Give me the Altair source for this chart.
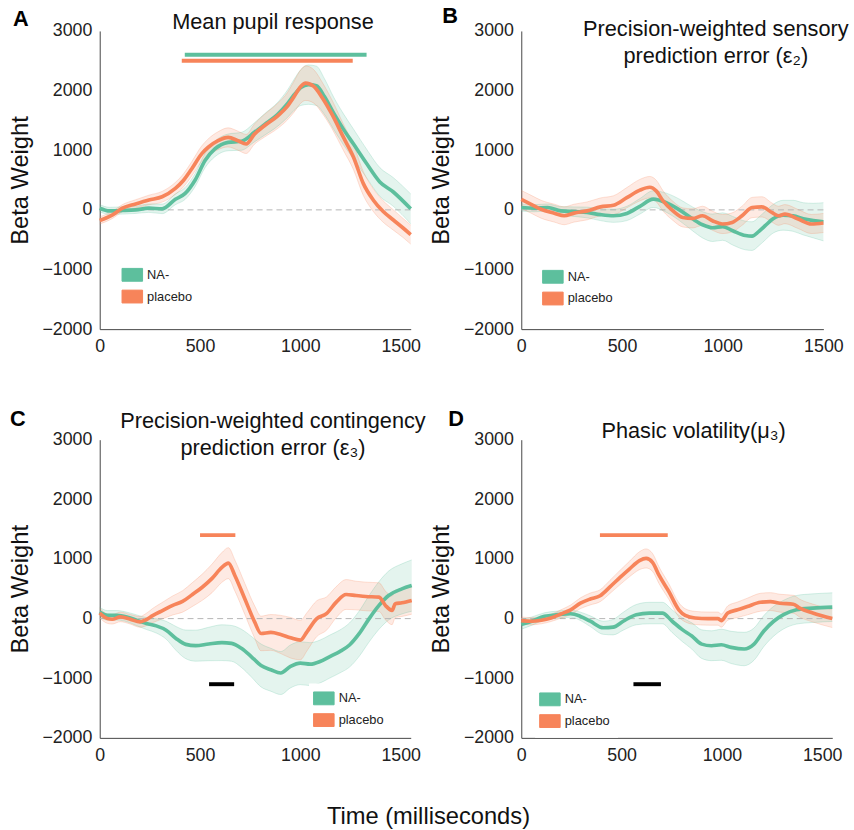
import altair as alt
import pandas as pd

G = "#5dbf9d"
O = "#f7845a"
FONT = "Liberation Sans"
GROUPS = ["NA-", "placebo"]

# ---------------- Panel A: Mean pupil response ----------------
a_pl_t = [0, 64, 113, 179, 245, 311, 377, 418, 459, 508, 541, 590, 640, 689, 730, 771, 821, 886, 936, 969, 1002, 1026, 1067, 1109, 1158, 1215, 1265, 1314, 1363, 1413, 1462, 1512, 1550]
a_pl_v = [-177, -83, 28, 100, 166, 220, 360, 497, 690, 940, 1050, 1160, 1215, 1160, 1105, 1270, 1410, 1573, 1740, 1900, 2070, 2125, 2070, 1880, 1600, 1215, 883, 440, 166, -28, -166, -304, -414]
a_pl_h = [60, 60, 60, 70, 80, 90, 100, 110, 120, 130, 140, 150, 160, 160, 160, 170, 190, 210, 230, 260, 280, 290, 280, 260, 240, 220, 210, 200, 190, 180, 170, 160, 160]
a_na_t = [0, 48, 113, 179, 245, 311, 377, 426, 475, 525, 574, 640, 706, 771, 821, 886, 936, 969, 1002, 1040, 1080, 1120, 1166, 1215, 1265, 1331, 1396, 1462, 1550]
a_na_v = [28, -17, -11, 0, 28, 17, 177, 276, 497, 828, 1021, 1132, 1150, 1300, 1430, 1600, 1780, 1930, 2050, 2100, 2080, 1900, 1620, 1350, 1104, 773, 469, 304, 17]
a_na_h = [60, 60, 60, 60, 70, 80, 90, 100, 110, 120, 130, 140, 150, 160, 180, 200, 230, 260, 300, 330, 330, 300, 270, 260, 250, 240, 240, 240, 250]

# ---------------- Panel B: sensory PE ----------------
b_pl_t = [0, 49, 98, 164, 213, 262, 327, 393, 458, 524, 589, 638, 671, 704, 753, 802, 851, 900, 949, 998, 1047, 1096, 1146, 1195, 1244, 1277, 1309, 1375, 1440, 1500]
b_pl_v = [176, 94, 11, -55, -99, -55, -17, 50, 77, 204, 331, 380, 314, 149, -17, -127, -143, -99, -182, -237, -210, -99, 39, 50, -44, -99, -72, -154, -237, -220]
b_pl_h = [150, 150, 150, 150, 150, 150, 150, 150, 160, 170, 180, 180, 180, 170, 160, 160, 160, 160, 160, 160, 160, 160, 170, 170, 160, 160, 160, 160, 160, 160]
b_na_t = [0, 65, 131, 196, 262, 327, 393, 458, 524, 589, 655, 720, 785, 850, 900, 950, 1000, 1050, 1113, 1146, 1180, 1211, 1250, 1300, 1350, 1400, 1450, 1500]
b_na_v = [39, 28, 39, -17, -30, -44, -80, -99, -60, 60, 180, 120, 0, -150, -250, -300, -280, -350, -430, -440, -360, -265, -150, -90, -100, -150, -180, -200]
b_na_h = [60, 60, 60, 70, 80, 90, 100, 110, 120, 130, 140, 160, 180, 200, 220, 230, 230, 240, 240, 240, 240, 240, 240, 250, 260, 270, 290, 320]

# ---------------- Panel C: contingency PE ----------------
c_pl_t = [0, 38, 62, 103, 152, 201, 225, 266, 315, 364, 413, 462, 511, 560, 609, 641, 674, 723, 772, 804, 853, 902, 951, 1000, 1033, 1082, 1130, 1179, 1228, 1277, 1326, 1392, 1424, 1457, 1473, 1506, 1555]
c_pl_v = [94, 0, -11, 28, -11, -55, -28, 55, 138, 221, 288, 404, 526, 675, 858, 930, 720, 332, -55, -249, -232, -266, -321, -360, -221, 0, 83, 277, 404, 387, 371, 360, 221, 138, 249, 266, 304]
c_pl_h = [80, 80, 80, 80, 80, 90, 100, 120, 140, 160, 180, 200, 220, 240, 250, 260, 260, 260, 270, 290, 300, 320, 340, 330, 320, 300, 280, 260, 250, 240, 240, 240, 240, 240, 230, 230, 230]
c_na_t = [0, 38, 86, 135, 184, 233, 282, 331, 380, 429, 478, 543, 609, 657, 706, 755, 804, 853, 902, 951, 1000, 1049, 1098, 1147, 1196, 1245, 1294, 1343, 1392, 1440, 1506, 1555]
c_na_v = [110, 55, 55, 28, -28, -83, -122, -194, -332, -432, -454, -426, -404, -415, -498, -636, -786, -858, -913, -802, -747, -764, -720, -636, -553, -443, -249, 0, 221, 387, 498, 554]
c_na_h = [80, 80, 80, 80, 90, 100, 120, 150, 200, 240, 260, 280, 300, 300, 320, 340, 360, 360, 360, 360, 360, 360, 360, 360, 360, 370, 380, 390, 400, 410, 420, 430]

# ---------------- Panel D: phasic volatility ----------------
d_pl_t = [0, 51, 100, 148, 197, 246, 295, 344, 393, 442, 491, 540, 589, 622, 654, 687, 736, 785, 817, 866, 932, 980, 997, 1029, 1078, 1127, 1192, 1241, 1290, 1356, 1388, 1453, 1550]
d_pl_v = [-33, -44, -27, 11, 77, 148, 258, 329, 384, 532, 686, 834, 971, 1009, 943, 724, 450, 148, 55, 11, 0, 0, -33, 93, 148, 203, 274, 285, 258, 241, 175, 93, 0]
d_pl_h = [60, 60, 60, 60, 70, 80, 90, 100, 100, 110, 120, 130, 150, 160, 150, 140, 130, 120, 110, 110, 110, 110, 110, 120, 130, 140, 150, 150, 150, 150, 150, 150, 150]
d_na_t = [0, 51, 116, 181, 246, 295, 344, 409, 458, 508, 573, 638, 703, 752, 801, 850, 899, 948, 997, 1046, 1111, 1160, 1209, 1258, 1307, 1372, 1453, 1550]
d_na_v = [-99, -44, 38, 66, 82, 38, -44, -154, -143, -44, 66, 93, 93, -44, -181, -291, -428, -455, -439, -483, -510, -428, -208, -44, 66, 148, 175, 192]
d_na_h = [80, 70, 60, 60, 60, 70, 90, 110, 130, 150, 170, 180, 180, 190, 200, 220, 240, 250, 260, 270, 280, 270, 260, 250, 240, 240, 240, 240]

# significance bars: (start ms, end ms, level, colour)
a_bars = [(424, 1330, 2600, G), (409, 1261, 2500, O)]
b_bars = []
c_bars = [(500, 676, 1400, O), (545, 670, -1100, "#000000")]
d_bars = [(392, 730, 1400, O), (559, 696, -1100, "#000000")]

YDOM = [-2000, 3000]


def series(t, v, h, g):
    return pd.DataFrame({"t": t, "v": v, "lo": [a - b for a, b in zip(v, h)],
                         "hi": [a + b for a, b in zip(v, h)], "group": g})


def panel(na, pl, bars, title_lines, t_offset, t_dx, letter, lx, ly, legx, legy, xmax, width):
    df = pd.concat([series(*na, "NA-"), series(*pl, "placebo")], ignore_index=True)
    xs = alt.Scale(domain=[0, xmax], nice=False, zero=False)
    ys = alt.Scale(domain=YDOM, nice=False)
    xa = alt.Axis(values=[0, 500, 1000, 1500], grid=False, ticks=False, title=None,
                  labelFlush=False, labelPadding=9, format="d")
    ya = alt.Axis(values=[-2000, -1000, 0, 1000, 2000, 3000], grid=False, ticks=False,
                  title="Beta Weight", labelPadding=8, titlePadding=10, format="d")
    cscale = alt.Scale(domain=GROUPS, range=[G, O])
    base = alt.Chart(df)
    band = base.mark_area(fillOpacity=0.17, interpolate="monotone").encode(
        x=alt.X("t:Q", scale=xs, axis=xa),
        y=alt.Y("lo:Q", scale=ys, axis=ya),
        y2="hi:Q",
        color=alt.Color("group:N", scale=cscale, legend=alt.Legend(
            title=None, orient="none", legendX=legx, legendY=legy,
            symbolType="M-1.6,-1H1.6V1H-1.6Z", symbolSize=169,
            symbolStrokeColor="#666666", symbolStrokeWidth=1, symbolOpacity=1,
            labelFontSize=13, labelFont=FONT, labelColor="#222222", labelOffset=8,
            rowPadding=4, fillColor="white", padding=8)),
    )
    edges_lo = base.mark_line(strokeWidth=0.7, strokeOpacity=0.35, interpolate="monotone").encode(
        x="t:Q", y="lo:Q", color=alt.Color("group:N", scale=cscale, legend=None))
    edges_hi = base.mark_line(strokeWidth=0.7, strokeOpacity=0.35, interpolate="monotone").encode(
        x="t:Q", y="hi:Q", color=alt.Color("group:N", scale=cscale, legend=None))
    zero = alt.Chart(pd.DataFrame({"y": [0]})).mark_rule(
        color="#b5b5b5", strokeDash=[6, 4], strokeWidth=1).encode(y="y:Q")
    lines = base.mark_line(strokeWidth=3.7, interpolate="monotone").encode(
        x="t:Q", y="v:Q", color=alt.Color("group:N", scale=cscale, legend=None))
    layers = [band, zero, edges_lo, edges_hi, lines]
    for (s, e, lvl, col) in bars:
        layers.append(alt.Chart(pd.DataFrame({"s": [s], "e": [e], "y": [lvl]})).mark_rule(
            strokeWidth=4, color=col).encode(x="s:Q", x2="e:Q", y="y:Q"))
    lab = alt.Chart(pd.DataFrame({"l": [letter]})).mark_text(
        font=FONT, fontSize=22, fontWeight="bold", color="#000000", align="center",
        baseline="middle").encode(text="l:N", x=alt.value(lx), y=alt.value(ly))
    layers.append(lab)
    return alt.layer(*layers).properties(
        width=width, height=302,
        title=alt.TitleParams(text=title_lines, fontSize=22, font=FONT, fontWeight="normal",
                              color="#111111", anchor="middle", offset=t_offset, dx=t_dx,
                              lineHeight=27),
    )


pA = panel((a_na_t, a_na_v, a_na_h), (a_pl_t, a_pl_v, a_pl_h), a_bars,
           ["Mean pupil response"], -26, 18, "A", -80, -12, 18, 232, 1550, 315)
pB = panel((b_na_t, b_na_v, b_na_h), (b_pl_t, b_pl_v, b_pl_h), b_bars,
           ["Precision-weighted sensory", "prediction error (ε₂)"], -63, 44, "B", -72, -15, 17, 234, 1500, 306)
pC = panel((c_na_t, c_na_v, c_na_h), (c_pl_t, c_pl_v, c_pl_h), c_bars,
           ["Precision-weighted contingency", "prediction error (ε₃)"], -52, 18, "C", -83, -21, 212, 247, 1550, 315)
pD = panel((d_na_t, d_na_v, d_na_h), (d_pl_t, d_pl_v, d_pl_h), d_bars,
           ["Phasic volatility(μ₃)"], -35, 17, "D", -66, -21, 14, 248, 1550, 315)

chart = alt.concat(pA, pB, pC, pD, columns=2, spacing=112, bounds="flush").resolve_scale(
    color="independent").resolve_legend(color="independent").properties(
    title=alt.TitleParams("Time (milliseconds)", orient="bottom", anchor="middle",
                          fontSize=24, font=FONT, fontWeight="normal", color="#111111", offset=41),
    padding={"left": 8, "top": 0, "right": 5, "bottom": 0},
    background="white",
).configure_view(stroke=None).configure_axis(
    domainColor="#444444", domainWidth=1, labelFont=FONT, labelFontSize=18,
    labelColor="#222222", titleFont=FONT, titleFontSize=24, titleFontWeight="normal",
    titleColor="#111111", grid=False, ticks=False,
)

chart.save("out.html", embed_options={"renderer": "svg", "actions": False})
